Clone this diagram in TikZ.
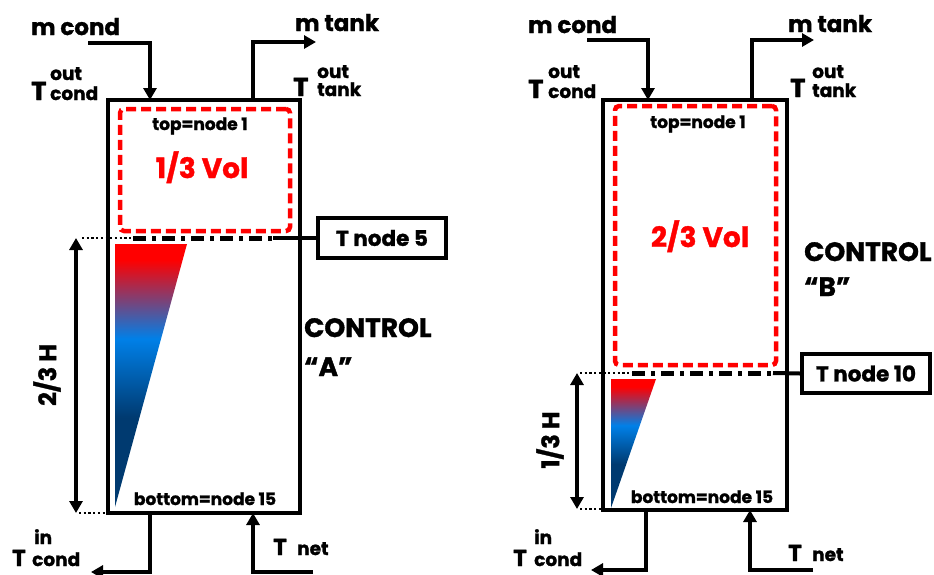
\documentclass[tikz,border=0pt]{standalone}
\usepackage{fontspec}
\setmainfont{Poppins}[BoldFeatures={FakeBold=1.3}]
\usetikzlibrary{arrows.meta}
\definecolor{navyb}{RGB}{0,58,112}
\definecolor{brightb}{RGB}{0,128,232}
\definecolor{hotred}{RGB}{255,0,0}
\pgfdeclareverticalshading{tankgrad}{100bp}{color(0bp)=(navyb); color(42bp)=(navyb); color(57bp)=(brightb); color(72bp)=(hotred); color(100bp)=(hotred)}
\newcommand{\fMain}{\fontsize{23pt}{23pt}\selectfont\bfseries}
\newcommand{\fBigT}{\fontsize{26pt}{26pt}\selectfont\bfseries}
\newcommand{\fLowT}{\fontsize{23pt}{23pt}\selectfont\bfseries}
\newcommand{\fSubs}{\fontsize{18.5pt}{18.5pt}\selectfont\bfseries}
\newcommand{\fSmall}{\fontsize{17pt}{17pt}\selectfont\bfseries}
\newcommand{\fVol}{\fontsize{28pt}{28pt}\selectfont\bfseries}
\newcommand{\fCtl}{\fontsize{26.5pt}{26.5pt}\selectfont\bfseries}
\newcommand{\fBox}{\fontsize{21.5pt}{21.5pt}\selectfont\bfseries}
\newcommand{\fDim}{\fontsize{24pt}{24pt}\selectfont\bfseries}
\tikzset{
  lbl/.style={inner sep=0pt, anchor=base west},
  clbl/.style={inner sep=0pt, anchor=base},
  tankbox/.style={draw, line width=4pt, inner sep=0pt},
  volbox/.style={draw=hotred, line width=4.5pt, dash pattern=on 10pt off 5pt, rounded corners=4pt, inner sep=0pt},
  nodebox/.style={draw, line width=4pt, inner sep=0pt, minimum width=128pt, font=\fBox},
  flow/.style={line width=4.5pt, -{Triangle[length=12pt,width=13pt]}},
  dim/.style={line width=4pt, {Triangle[length=12pt,width=13pt]}-{Triangle[length=12pt,width=13pt]}},
  dotline/.style={line width=2.2pt, dash pattern=on 2.2pt off 2.5pt},
  dashdotline/.style={line width=5pt, dash pattern=on 13pt off 6pt on 4pt off 6pt},
}
\begin{document}
\begin{tikzpicture}[x=1pt,y=-1pt]
\useasboundingbox (0,0) rectangle (934,574);
%% ================= LEFT : CONTROL A =================
\node[tankbox, minimum width=192pt, minimum height=413pt] (tA) at (204,306.5) {};
\node[volbox, minimum width=170pt, minimum height=122pt] (vA) at (205,170) {};
\shade[shading=tankgrad] (115,244) -- (187,244) -- (115,507) -- cycle;
\node[clbl, font=\fSmall] (topA) at (200,130) {top=node 1};
\node[clbl, font=\fVol, text=hotred] (volA) at (202,178) {1/3 Vol};
\node[clbl, font=\fSmall] (botLA) at (205,505) {bottom=node 15};
\node[nodebox, minimum height=40pt] (T5) at (382,238) {T node 5};
% level line
\coordinate (lvA0) at (82,238);
\coordinate (lvA1) at (133,238);
\coordinate (lvA2) at (273,238);
\draw[dotline] (lvA0) -- (lvA1);
\draw[dashdotline] (lvA1) -- (lvA2);
\draw[line width=4pt] (lvA2) -- (T5.west);
\coordinate (lbA0) at (79,513);
\coordinate (lbA1) at (107,513);
\draw[dotline] (lbA0) -- (lbA1);
% dimension
\coordinate (dAt) at (76,238);
\coordinate (dAb) at (76,513);
\draw[dim] (dAt) -- (dAb);
\node[font=\fDim, rotate=90, inner sep=0pt] (hA) at (47,375) {2/3 H};
% flows
\coordinate (mcAs) at (88,43);
\coordinate (inA) at (150,100);
\draw[flow] (mcAs) -| (inA);
\coordinate (outA) at (253,100);
\coordinate (mtAe) at (316,42);
\draw[flow] (outA) |- (mtAe);
\coordinate (botA) at (150,513);
\coordinate (ciAe) at (91,572);
\draw[flow] (botA) |- (ciAe);
\coordinate (netAs) at (313,572);
\coordinate (netA) at (253,513);
\draw[flow] (netAs) -| (netA);
% labels
\node[lbl, font=\fMain] (mcA) at (31,35) {m cond};
\node[lbl, font=\fMain] (mtA) at (295,31) {m tank};
\node[lbl, font=\fBigT] (TocA) at (31,100) {T};
\node[lbl, font=\fSubs] (TocAs) at (50,80) {out};
\node[lbl, font=\fSubs] (TocAb) at (50,100) {cond};
\node[lbl, font=\fBigT] (TotA) at (293,96) {T};
\node[lbl, font=\fSubs] (TotAs) at (317,78) {out};
\node[lbl, font=\fSubs] (TotAb) at (317,96) {tank};
\node[lbl, font=\fLowT] (TicA) at (12,566) {T};
\node[lbl, font=\fSubs] (TicAs) at (34,544) {in};
\node[lbl, font=\fSubs] (TicAb) at (32,566) {cond};
\node[lbl, font=\fLowT] (TnA) at (273,555) {T};
\node[lbl, font=\fSubs] (TnAb) at (297,555) {net};
\node[lbl, font=\fCtl] (ctlA) at (304,337) {CONTROL};
\node[lbl, font=\fCtl] (qA) at (304,376) {“A”};
%% ================= RIGHT : CONTROL B =================
\node[tankbox, minimum width=184pt, minimum height=410pt] (tB) at (695,305) {};
\node[volbox, minimum width=161pt, minimum height=259pt] (vB) at (695.5,235.5) {};
\shade[shading=tankgrad] (611,379) -- (656,379) -- (611,508) -- cycle;
\node[clbl, font=\fSmall] (topB) at (698,128) {top=node 1};
\node[clbl, font=\fVol, text=hotred] (volB) at (700,247) {2/3 Vol};
\node[clbl, font=\fSmall] (botLB) at (702,503) {bottom=node 15};
\node[nodebox, minimum height=39pt] (T10) at (866,373.5) {T node 10};
\coordinate (lvB0) at (580,373);
\coordinate (lvB1) at (632,373);
\coordinate (lvB2) at (773,373);
\draw[dotline] (lvB0) -- (lvB1);
\draw[dashdotline] (lvB1) -- (lvB2);
\draw[line width=4pt] (lvB2) -- (T10.west);
\coordinate (lbB0) at (580,509);
\coordinate (lbB1) at (602,509);
\draw[dotline] (lbB0) -- (lbB1);
\coordinate (dBt) at (577,373);
\coordinate (dBb) at (577,509);
\draw[dim] (dBt) -- (dBb);
\node[font=\fDim, rotate=90, inner sep=0pt] (hB) at (550,440) {1/3 H};
\coordinate (mcBs) at (587,40);
\coordinate (inB) at (648,100);
\draw[flow] (mcBs) -| (inB);
\coordinate (outB) at (752,100);
\coordinate (mtBe) at (814,40);
\draw[flow] (outB) |- (mtBe);
\coordinate (botB) at (646,510);
\coordinate (ciBe) at (591,570);
\draw[flow] (botB) |- (ciBe);
\coordinate (netBs) at (813,570);
\coordinate (netB) at (750,510);
\draw[flow] (netBs) -| (netB);
\node[lbl, font=\fMain] (mcB) at (528,33) {m cond};
\node[lbl, font=\fMain] (mtB) at (788,32) {m tank};
\node[lbl, font=\fBigT] (TocB) at (528,98) {T};
\node[lbl, font=\fSubs] (TocBs) at (548,78) {out};
\node[lbl, font=\fSubs] (TocBb) at (548,98) {cond};
\node[lbl, font=\fBigT] (TotB) at (790,97) {T};
\node[lbl, font=\fSubs] (TotBs) at (812,78) {out};
\node[lbl, font=\fSubs] (TotBb) at (812,97) {tank};
\node[lbl, font=\fLowT] (TicB) at (513,566) {T};
\node[lbl, font=\fSubs] (TicBs) at (534,544) {in};
\node[lbl, font=\fSubs] (TicBb) at (534,566) {cond};
\node[lbl, font=\fLowT] (TnB) at (788,561) {T};
\node[lbl, font=\fSubs] (TnBb) at (812,561) {net};
\node[lbl, font=\fCtl] (ctlB) at (804,261) {CONTROL};
\node[lbl, font=\fCtl] (qB) at (804,296) {“B”};
\end{tikzpicture}
\end{document}
